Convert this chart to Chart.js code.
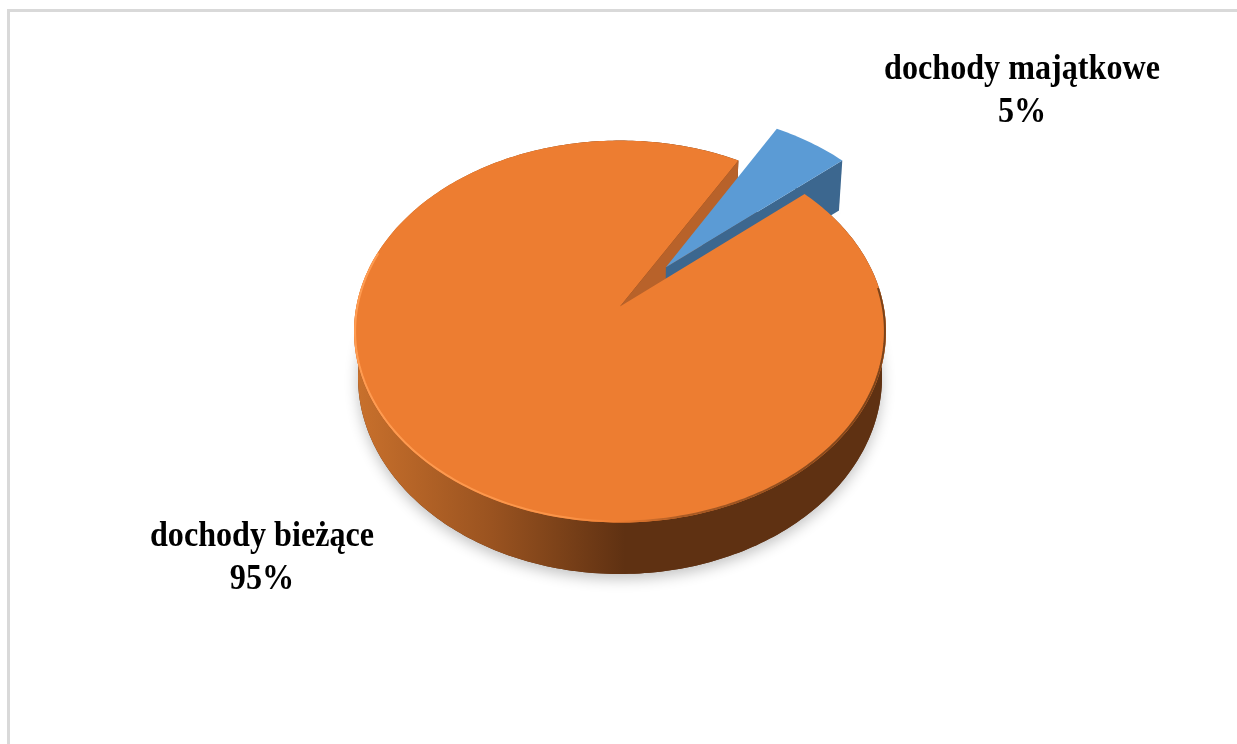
<!DOCTYPE html>
<html>
<head>
<meta charset="utf-8">
<style>
  html, body { margin: 0; padding: 0; background: #fff; overflow: hidden; }
  #frame { position: absolute; left: 7px; top: 9px; width: 1230px; height: 735px; border-top: 3px solid #d9d9d9; border-left: 3px solid #d9d9d9; box-sizing: border-box; }
  #chart { position: absolute; left: 0; top: 0; }
</style>
<script src="https://cdn.jsdelivr.net/npm/chart.js@4/dist/chart.umd.min.js"></script>
</head>
<body>
<div id="frame"></div>
<canvas id="chart" width="1237" height="744"></canvas>
<script>
// Data
const categories = ['dochody majątkowe', 'dochody bieżące'];
const shareValues = [5.4, 94.6]; // printed rounded: 5% and 95%
const sliceColors = ['#5b9bd5', '#ed7d31'];
const sideColors = ['#3c678f', '#b8622a'];

// Perspective of the pie plane, as seen in the picture
const APEX_X = 620, APEX_Y = 306.5;
const PERSP = -0.131, SCALE_X = 263.7, SCALE_Y = 187.7;
const EXPLODE = 0.28; // blue slice pulled out, share of the radius

function project(u, v) {
    const w = 1 + PERSP * v;
    return { x: APEX_X + SCALE_X * u / w, y: APEX_Y + SCALE_Y * v / w };
}

// same point on the underside of the pie
function lower(p, depth, sy) {
    return {
        x: APEX_X + (p.x - APEX_X) * 0.985,
        y: APEX_Y + (p.y - APEX_Y) * sy + depth
    };
}

function arcPoints(start, end, ox, oy, radius = 1) {
    const pts = [];
    const steps = Math.ceil(Math.abs(end - start) / (Math.PI / 180));
    for (let i = 0; i <= steps; i++) {
        const a = start + (end - start) * i / steps;
        pts.push(project(ox + radius * Math.cos(a), oy + radius * Math.sin(a)));
    }
    return pts;
}

function tracePath(ctx, pts) {
    ctx.beginPath();
    pts.forEach((p, i) => i ? ctx.lineTo(p.x, p.y) : ctx.moveTo(p.x, p.y));
    ctx.closePath();
}

const pie3d = {
    id: 'pie3d',
    beforeDatasetDraw(chart) {
        const ctx = chart.ctx;
        const arcs = chart.getDatasetMeta(0).data;
        const blue = arcs[0], orange = arcs[1];

        const mid = (blue.startAngle + blue.endAngle) / 2;
        const ox = Math.cos(mid) * EXPLODE, oy = Math.sin(mid) * EXPLODE;
        const bApex = project(ox, oy);
        const bEdge = arcPoints(blue.startAngle, blue.endAngle, ox, oy);
        const oApex = project(0, 0);
        const oEdge = arcPoints(orange.startAngle, orange.endAngle, 0, 0);

        const oLow = p => lower(p, 45, 1.03);
        const bLow = p => lower(p, 50, 1);

        ctx.save();

        // soft shadow under the pie
        ctx.shadowColor = 'rgba(0,0,0,0.24)';
        ctx.shadowBlur = 14;
        ctx.shadowOffsetY = 5;
        ctx.fillStyle = '#5f3112';
        tracePath(ctx, oEdge.map(oLow));
        ctx.fill();
        ctx.fillStyle = sideColors[0];
        tracePath(ctx, bEdge.map(bLow));
        ctx.fill();
        ctx.shadowColor = 'transparent';

        // rim of the big slice
        const rim = ctx.createLinearGradient(358, 0, 625, 0);
        rim.addColorStop(0, '#c8702c');
        rim.addColorStop(0.5, '#9a5320');
        rim.addColorStop(1, '#5f3112');
        ctx.fillStyle = rim;
        tracePath(ctx, oEdge.concat(oEdge.map(oLow).reverse()));
        ctx.fill();

        // cut face of the big slice, seen through the gap
        const last = oEdge[oEdge.length - 1];
        ctx.fillStyle = sideColors[1];
        tracePath(ctx, [oApex, last, oLow(last), oLow(oApex)]);
        ctx.fill();

        // blue slice: side, then top
        const tip = bEdge[bEdge.length - 1];
        ctx.fillStyle = sideColors[0];
        tracePath(ctx, [bApex, tip, bLow(tip), bLow(bApex)]);
        ctx.fill();
        ctx.fillStyle = blue.options.backgroundColor;
        tracePath(ctx, [bApex].concat(bEdge));
        ctx.fill();

        // top of the big slice
        ctx.fillStyle = orange.options.backgroundColor;
        tracePath(ctx, [oApex].concat(oEdge));
        ctx.fill();

        // bevel on the near edge, light on the left and dark on the right
        const bevel = ctx.createLinearGradient(353, 0, 885, 0);
        bevel.addColorStop(0, '#ff9c52');
        bevel.addColorStop(0.4, '#fb9448');
        bevel.addColorStop(0.5, '#ed7d31');
        bevel.addColorStop(0.62, '#a95a24');
        bevel.addColorStop(1, '#7a4219');
        ctx.strokeStyle = bevel;
        ctx.lineWidth = 2;
        ctx.beginPath();
        arcPoints(-0.1, Math.PI + 0.3, 0, 0, 0.996).forEach((p, i) => i ? ctx.lineTo(p.x, p.y) : ctx.moveTo(p.x, p.y));
        ctx.stroke();

        ctx.restore();
        return false;
    },
    afterDatasetsDraw(chart) {
        const ctx = chart.ctx;
        const spots = [[1022, 70, 113], [262, 537, 580]];
        ctx.save();
        ctx.fillStyle = '#000';
        ctx.font = 'bold 36px "Liberation Serif"';
        ctx.textAlign = 'center';
        ctx.textBaseline = 'middle';
        categories.forEach((name, i) => {
            ctx.save();
            ctx.translate(spots[i][0], 0);
            ctx.scale(0.893, 1); // the type in the picture is a bit narrow
            ctx.fillText(name, 0, spots[i][1]);
            ctx.fillText(Math.round(shareValues[i]) + '%', 0, spots[i][2]);
            ctx.restore();
        });
        ctx.restore();
    }
};

new Chart(document.getElementById('chart'), {
    type: 'pie',
    data: {
        labels: categories,
        datasets: [{ data: shareValues, backgroundColor: sliceColors, borderWidth: 0 }]
    },
    options: {
        responsive: false,
        animation: false,
        rotation: 30,
        plugins: { legend: { display: false }, tooltip: { enabled: false } }
    },
    plugins: [pie3d]
});
</script>
</body>
</html>
